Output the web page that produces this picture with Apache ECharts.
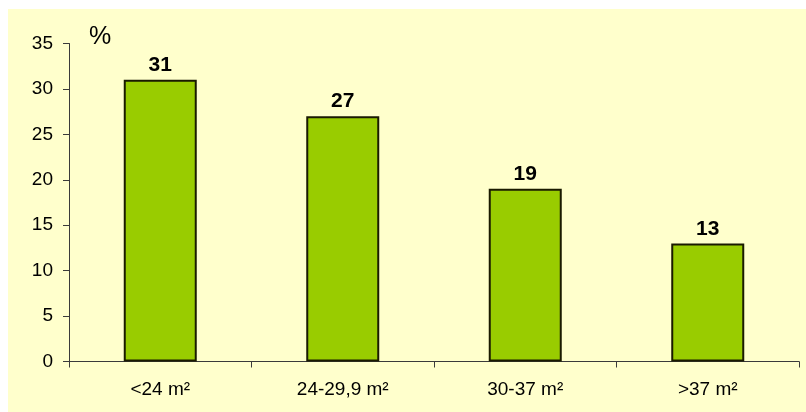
<!DOCTYPE html>
<html>
<head>
<meta charset="utf-8">
<script src="https://cdn.jsdelivr.net/npm/echarts@6/dist/echarts.min.js"></script>
<style>
  html, body { margin: 0; padding: 0; background: #ffffff; }
  #main-chart { width: 806px; height: 412px; }
</style>
</head>
<body>
<div id="main-chart"></div>
<script>
// categories (floor area) and share in %
const categories = ['<24 m²', '24-29,9 m²', '30-37 m²', '>37 m²'];
const shares = [31, 27, 19, 13];
const yTicks = { min: 0, max: 35, interval: 5 };

const myChart = echarts.init(document.getElementById('main-chart'));

const axisColor = '#3a3a3a';

const option = {
    animation: false,
    // yellow panel
    graphic: [{
        type: 'rect',
        z: -10,
        silent: true,
        shape: { x: 8, y: 9, width: 798, height: 403 },
        style: { fill: '#ffffcc' }
    }],
    title: {
        text: '%',
        left: 84,
        top: 20,
        textStyle: {
            fontFamily: 'Liberation Sans',
            fontWeight: 'normal',
            fontSize: 25,
            color: '#000'
        }
    },
    grid: {
        left: 69,
        right: 7,
        top: 43.5,
        bottom: 50.5
    },
    xAxis: {
        type: 'category',
        data: categories,
        axisLine: { show: true, lineStyle: { color: axisColor, width: 1 } },
        axisTick: { show: true, length: 6, lineStyle: { color: axisColor } },
        axisLabel: {
            margin: 19,
            color: '#000',
            fontFamily: 'Liberation Sans',
            fontSize: 19
        }
    },
    yAxis: {
        type: 'value',
        min: yTicks.min,
        max: yTicks.max,
        interval: yTicks.interval,
        splitLine: { show: false },
        axisLine: { show: true, lineStyle: { color: axisColor, width: 1 } },
        axisTick: { show: true, length: 6, lineStyle: { color: axisColor } },
        axisLabel: {
            margin: 16,
            color: '#000',
            fontFamily: 'Liberation Sans',
            fontSize: 19
        }
    },
    series: [{
        type: 'bar',
        data: shares,
        barWidth: '40%',
        itemStyle: {
            color: '#99cc00',
            borderColor: '#1a1a00',
            borderWidth: 2
        },
        label: {
            show: true,
            position: 'top',
            distance: 4,
            color: '#000',
            fontFamily: 'Liberation Sans',
            fontWeight: 'bold',
            fontSize: 21
        }
    }]
};

myChart.setOption(option);
</script>
</body>
</html>
